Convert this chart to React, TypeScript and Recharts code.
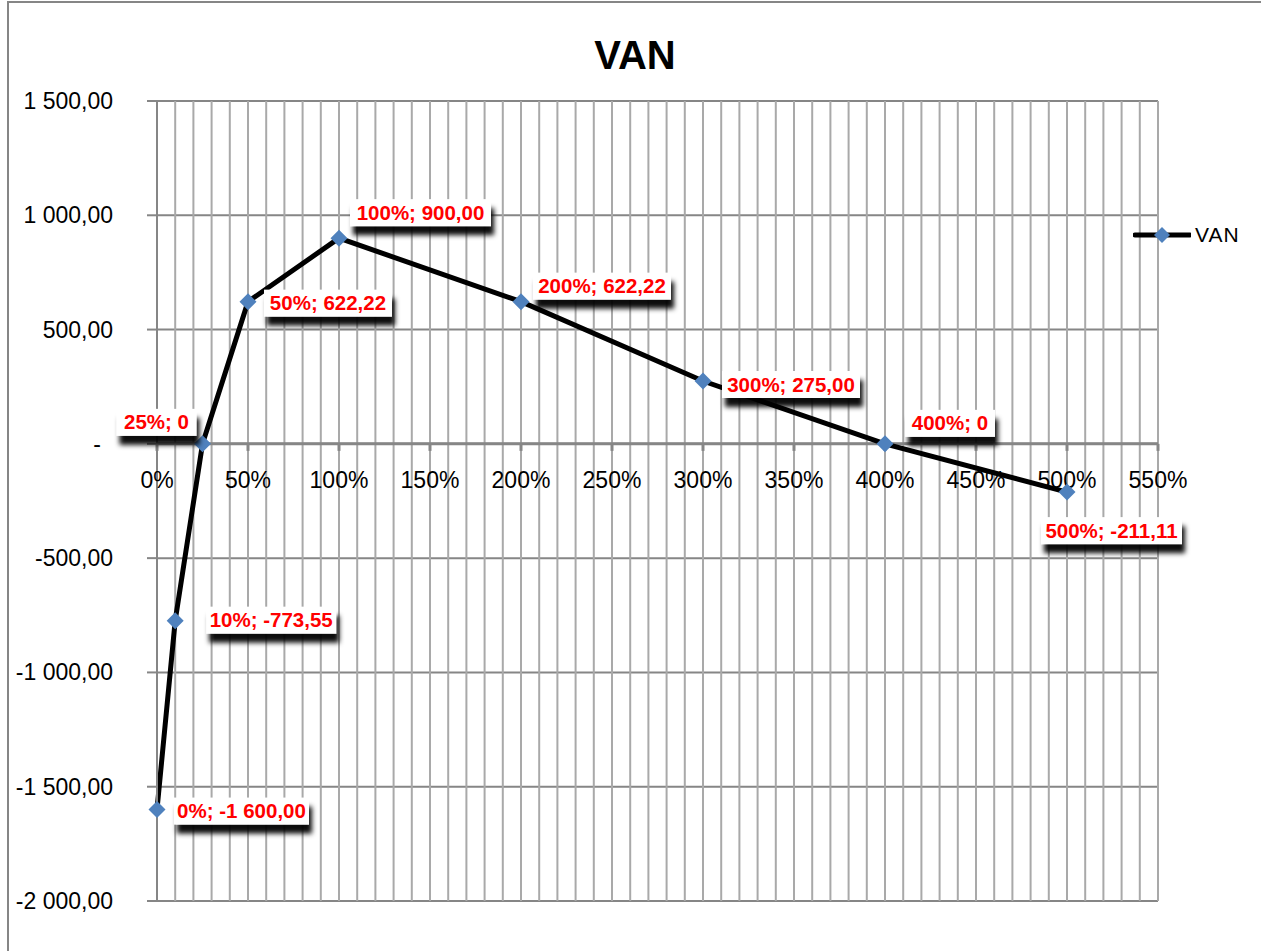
import React from "react";
import {
  LineChart,
  Line,
  XAxis,
  YAxis,
  CartesianGrid,
  ReferenceLine,
  ReferenceDot,
  LabelList,
  Legend,
} from "recharts";

// discount rate (%) and net present value
const rates = [0, 10, 25, 50, 100, 200, 300, 400, 500];
const van = [-1600, -773.55, 0, 622.22, 900, 622.22, 275, 0, -211.11];

const yTicks = [-2000, -1500, -1000, -500, 0, 500, 1000, 1500];
const xLabelTicks = [0, 50, 100, 150, 200, 250, 300, 350, 400, 450, 500, 550];
// minor vertical gridlines every 10 %
const gridTicks = Array.from({ length: 55 }, (_, i) => (i + 1) * 10);

// where each data label box sits, relative to its point (layout only)
const labelBoxes = [
  { dx: 17, dy: -12, w: 135 },
  { dx: 31, dy: -14, w: 130 },
  { dx: -86, dy: -35, w: 80 },
  { dx: 16, dy: -12, w: 128 },
  { dx: 11, dy: -39, w: 141 },
  { dx: 12, dy: -29, w: 138 },
  { dx: 19, dy: -10, w: 138 },
  { dx: 20, dy: -34, w: 90 },
  { dx: -26, dy: 25, w: 141 },
];

const chartData = rates.map((r, i) => ({ rate: r, van: van[i] }));

const FONT = "'Liberation Sans', Arial, sans-serif";
const GRID_DARK = "#868686";
const GRID_LIGHT = "#a9a9a9";

function groupThousands(v: number): string {
  const [int, dec] = Math.abs(v).toFixed(2).split(".");
  const grouped = int.replace(/\B(?=(\d{3})+(?!\d))/g, " ");
  return (v < 0 ? "-" : "") + grouped + "," + dec;
}

const fmtAxis = (v: number) => (v === 0 ? "-" : groupThousands(v));
const fmtLabel = (v: number) => (v === 0 ? "0" : groupThousands(v));

function YTick(props: any) {
  const { x, y, payload } = props;
  const v = payload.value;
  return (
    <text
      x={x + (v === 0 ? -12 : 0)}
      y={y}
      dy={8}
      textAnchor="end"
      fontSize={23}
      fontFamily={FONT}
      fill="#000"
    >
      {fmtAxis(v)}
    </text>
  );
}

function Diamond(props: any) {
  const { cx, cy, index } = props;
  if (cx == null || cy == null) return null;
  return (
    <path
      key={`d-${index}`}
      d={`M${cx},${cy - 8.5} L${cx + 8.5},${cy} L${cx},${cy + 8.5} L${cx - 8.5},${cy} Z`}
      fill="#4f81bd"
    />
  );
}

function DataLabel(props: any) {
  const vb = props.viewBox || {};
  const x = props.x ?? vb.x;
  const y = props.y ?? vb.y;
  const i = props.index;
  if (x == null || y == null || i == null) return null;
  const box = labelBoxes[i];
  const bx = x + box.dx;
  const by = y + box.dy;
  return (
    <g>
      <rect
        x={bx}
        y={by}
        width={box.w}
        height={27}
        fill="#fff"
        filter="url(#labelShadow)"
      />
      <text
        x={bx + box.w / 2}
        y={by + 20.5}
        textAnchor="middle"
        fontSize={20.5}
        fontWeight="bold"
        fontFamily={FONT}
        fill="#ff0000"
      >
        {`${rates[i]}%; ${fmtLabel(van[i])}`}
      </text>
    </g>
  );
}

function XTickMark(t: number) {
  return (props: any) => {
    const { cx, cy } = props;
    if (cx == null || cy == null) return <g />;
    return (
      <g>
        <line x1={cx} y1={cy} x2={cx} y2={cy + 7} stroke={GRID_DARK} strokeWidth={3} />
        <text
          x={cx}
          y={cy + 44}
          textAnchor="middle"
          fontSize={23}
          fontFamily={FONT}
          fill="#000"
        >
          {`${t}%`}
        </text>
      </g>
    );
  };
}

function LegendContent() {
  return (
    <div style={{ display: "flex", alignItems: "center", fontFamily: FONT }}>
      <svg width={58} height={26}>
        <line x1={2} y1={13} x2={57} y2={13} stroke="#000" strokeWidth={5} strokeLinecap="round" />
        <path d="M29,5 L37,13 L29,21 L21,13 Z" fill="#4f81bd" />
      </svg>
      <span style={{ fontSize: 21, color: "#000", marginLeft: 4, letterSpacing: 1 }}>VAN</span>
    </div>
  );
}

export default function App() {
  return (
    <div
      style={{
        position: "absolute",
        left: 0,
        top: 0,
        width: 1261,
        height: 951,
        overflow: "hidden",
        background: "#fff",
      }}
    >
      <div
        style={{
          position: "absolute",
          left: 7,
          top: 1,
          width: 1400,
          height: 1100,
          borderLeft: `2px solid ${GRID_DARK}`,
          borderTop: `2px solid ${GRID_DARK}`,
        }}
      />
      <div
        style={{
          position: "absolute",
          left: 535,
          top: 35,
          width: 200,
          textAlign: "center",
          fontFamily: FONT,
          fontWeight: "bold",
          fontSize: 40,
          lineHeight: "40px",
          color: "#000",
        }}
      >
        VAN
      </div>
      <div style={{ position: "absolute", left: 0, top: 0 }}>
        <LineChart
          width={1261}
          height={951}
          data={chartData}
          margin={{ top: 101, right: 103, bottom: 50, left: 0 }}
        >
          <defs>
            <filter id="labelShadow" x="-20%" y="-40%" width="140%" height="200%">
              <feDropShadow dx={3} dy={9} stdDeviation={2.5} floodColor="#000" floodOpacity={0.95} />
            </filter>
          </defs>
          {gridTicks.map((t) => (
            <ReferenceLine key={`g${t}`} x={t} stroke={GRID_LIGHT} strokeWidth={2} />
          ))}
          <CartesianGrid vertical={false} stroke={GRID_DARK} strokeWidth={2} />
          <XAxis
            type="number"
            dataKey="rate"
            domain={[0, 550]}
            ticks={xLabelTicks}
            interval={0}
            height={0}
            tick={false}
            tickLine={false}
            axisLine={false}
          />
          <YAxis
            type="number"
            domain={[-2000, 1500]}
            ticks={yTicks}
            interval={0}
            width={157}
            tickSize={10}
            tickMargin={34}
            tickLine={{ stroke: GRID_DARK, strokeWidth: 2 }}
            axisLine={{ stroke: GRID_DARK, strokeWidth: 2 }}
            tick={<YTick />}
          />
          <ReferenceLine y={0} stroke={GRID_DARK} strokeWidth={3} />
          {xLabelTicks.map((t) => (
            <ReferenceDot
              key={t}
              x={t}
              y={0}
              r={0}
              shape={XTickMark(t)}
            />
          ))}
          <Legend
            layout="vertical"
            align="center"
            verticalAlign="middle"
            content={<LegendContent />}
            wrapperStyle={{ left: 1133, top: 222, width: 120 }}
          />
          <Line
            type="linear"
            dataKey="van"
            name="VAN"
            stroke="#000"
            strokeWidth={5}
            dot={(p: any) => <Diamond {...p} />}
            activeDot={false}
            isAnimationActive={false}
          >
            <LabelList dataKey="van" content={(p: any) => <DataLabel {...p} />} />
          </Line>
        </LineChart>
      </div>
    </div>
  );
}
